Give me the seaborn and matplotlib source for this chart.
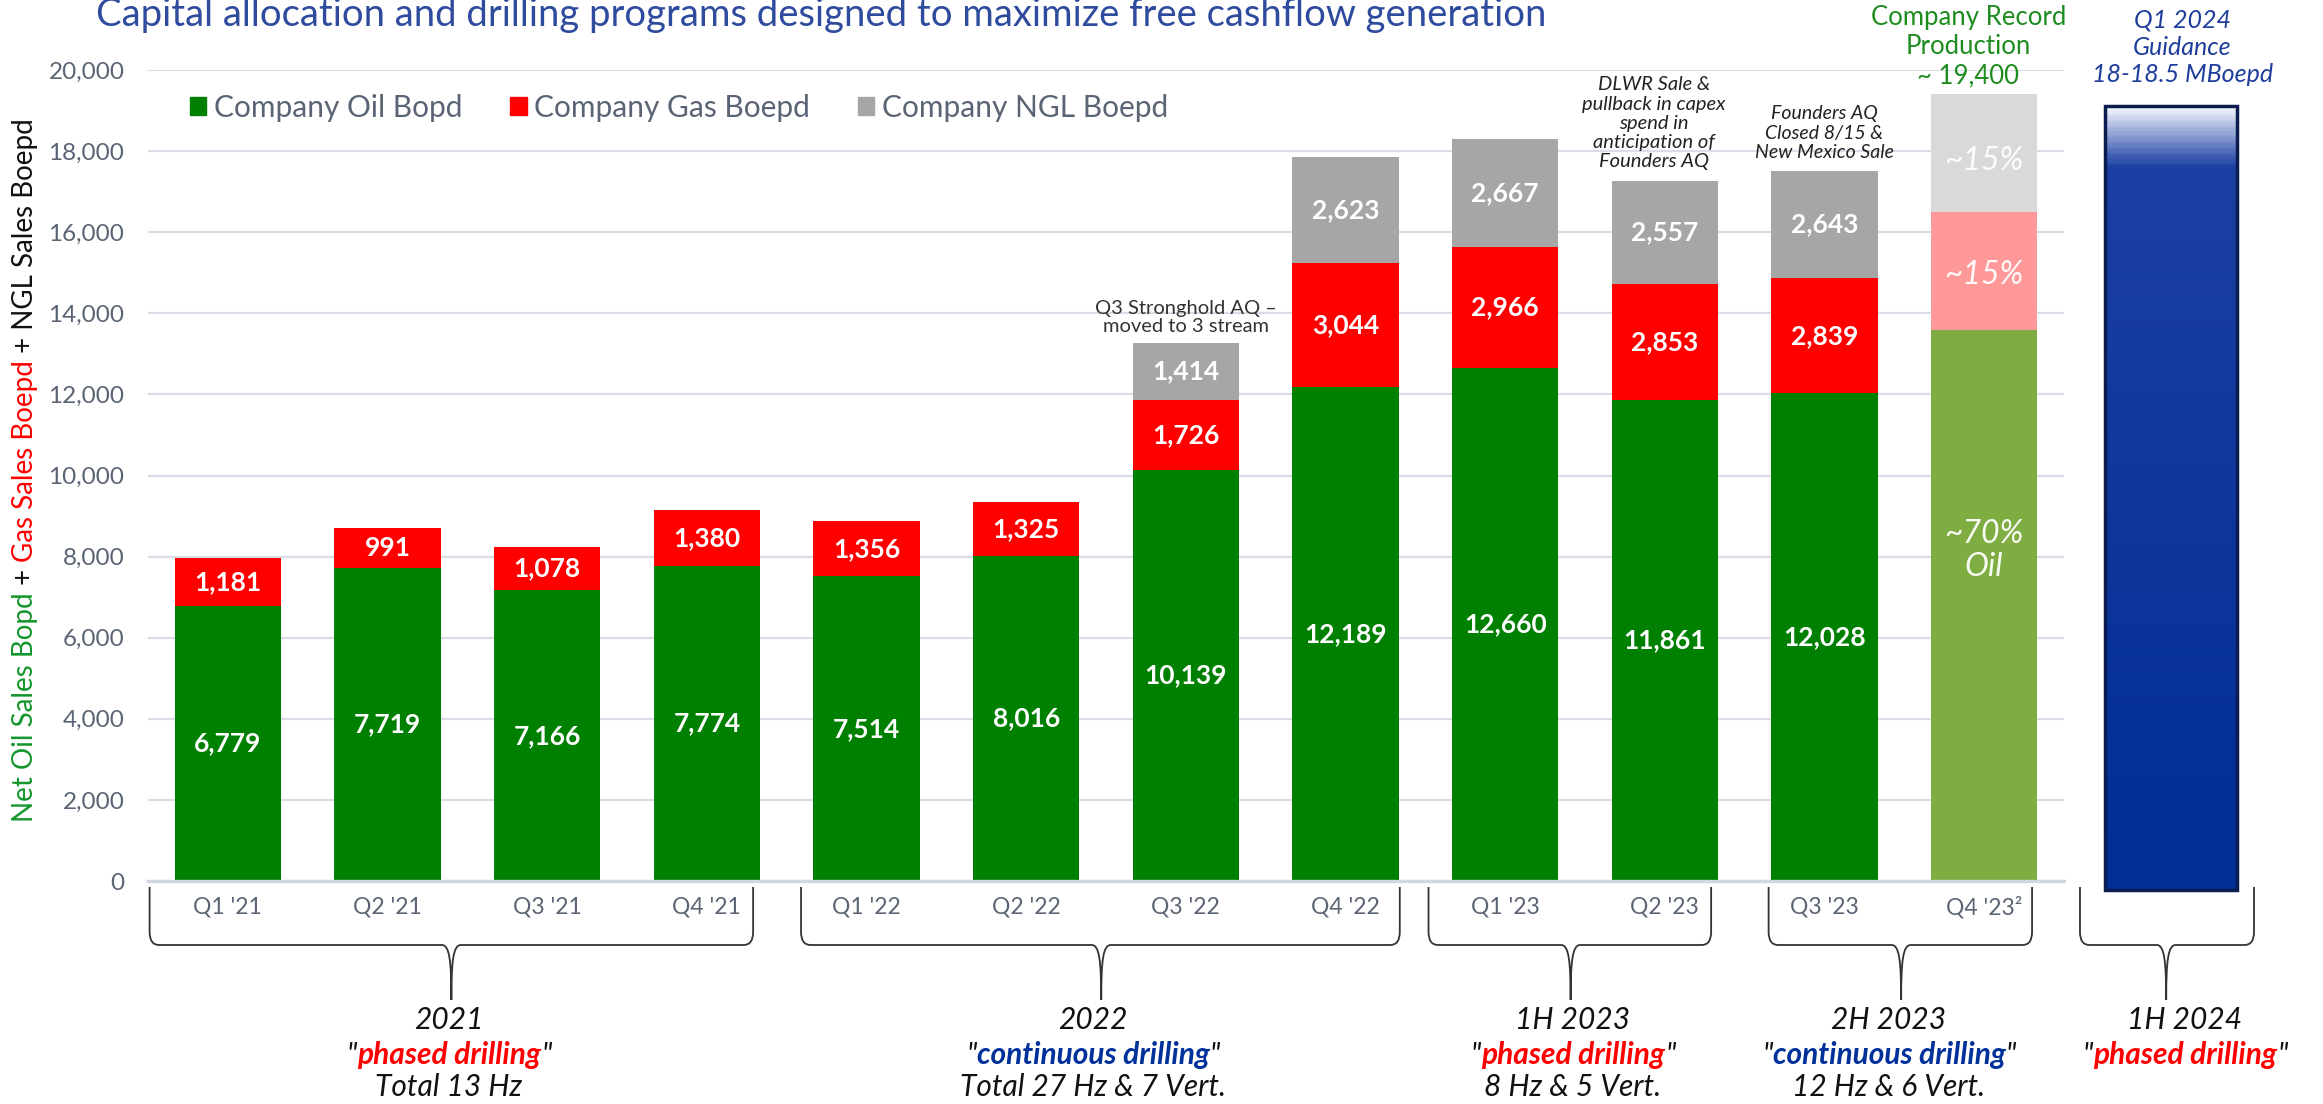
import matplotlib
matplotlib.use("Agg")
import matplotlib.pyplot as plt
import seaborn as sns
import numpy as np
import pandas as pd
import matplotlib.transforms as mtrans
from matplotlib.patches import Rectangle, PathPatch
from matplotlib.path import Path
from matplotlib.colors import LinearSegmentedColormap
from matplotlib.ticker import StrMethodFormatter

# Datos
quarters = ["Q1 '21", "Q2 '21", "Q3 '21", "Q4 '21", "Q1 '22", "Q2 '22",
            "Q3 '22", "Q4 '22", "Q1 '23", "Q2 '23", "Q3 '23", "Q4 '23²"]
oil = [6779, 7719, 7166, 7774, 7514, 8016, 10139, 12189, 12660, 11861, 12028, 13580]
gas = [1181, 991, 1078, 1380, 1356, 1325, 1726, 3044, 2966, 2853, 2839, 2910]
ngl = [0, 0, 0, 0, 0, 0, 1414, 2623, 2667, 2557, 2643, 2910]
q4_shares = ["~70%\nOil", "~15%", "~15%"]
guidance_top = 19100
series_names = ["Company Oil Bopd", "Company Gas Boepd", "Company NGL Boepd"]
groups = ["2021", "2022", "1H 2023", "2H 2023", "1H 2024"]
group_styles = ["phased drilling", "continuous drilling", "phased drilling",
                "continuous drilling", "phased drilling"]
group_wells = ["Total 13 Hz", "Total 27 Hz & 7 Vert.", "8 Hz & 5 Vert.",
               "12 Hz & 6 Vert.", ""]

sns.set_theme(style="white")
COND = ["Lato", "DejaVu Sans"]
plt.rcParams["font.family"] = ["Lato", "DejaVu Sans"]

W, H = 2323, 1104
GREEN, RED, GRAY = "#008000", "#FF0000", "#A6A6A6"
LGREEN, LRED, LGRAY = "#7FAD41", "#FF9999", "#D9D9D9"
NAVY = "#00309A"
TXT = "#5B6475"

fig = plt.figure(figsize=(W / 100, H / 100), dpi=100)
ax = fig.add_axes([148 / W, 1 - 881 / H, (2064 - 148) / W, (881 - 70) / H])


def px(x, y):
    return x / W, 1 - y / H


df = pd.DataFrame({"quarter": quarters, "oil": oil, "gas": gas, "ngl": ngl})
df["og"] = df["oil"] + df["gas"]
df["total"] = df["og"] + df["ngl"]
n = len(df)

# barras apiladas: se dibujan los acumulados de mayor a menor
for col, dark, light in [("total", GRAY, LGRAY), ("og", RED, LRED), ("oil", GREEN, LGREEN)]:
    pal = [dark] * (n - 1) + [light]
    sns.barplot(data=df, x="quarter", y=col, hue="quarter", palette=pal, legend=False,
                width=0.665, saturation=1, linewidth=0, ax=ax, zorder=2)

for i, r in df.iterrows():
    if i < n - 1:
        kw = dict(ha="center", va="center", color="white", fontsize=19, fontweight="bold", zorder=5)
        ax.text(i, r.oil / 2, f"{r.oil:,}", **kw)
        ax.text(i, r.oil + r.gas / 2, f"{r.gas:,}", **kw)
        if r.ngl > 0:
            ax.text(i, r.og + r.ngl / 2, f"{r.ngl:,}", **kw)
    else:
        kw = dict(ha="center", va="center", color="white", fontsize=23, style="italic",
                  zorder=5, linespacing=1.15, alpha=0.95)
        ax.text(i, r.oil * 0.6, q4_shares[0], **kw)
        ax.text(i, r.oil + r.gas / 2 - 100, q4_shares[1], **kw)
        ax.text(i, r.og + r.ngl / 2 - 200, q4_shares[2], **kw)

# barra de guidance con degradado
gx, gw, gbase = 12.17, 0.83, -220
cmap = LinearSegmentedColormap.from_list(
    "g", [(0, "#F2F4FB"), (0.035, "#8A9DD2"), (0.075, "#1B40A3"), (1, "#002D96")])
grad = np.linspace(0, 1, 400).reshape(-1, 1)
im = ax.imshow(grad, extent=[gx - gw / 2, gx + gw / 2, gbase, guidance_top], aspect="auto",
               cmap=cmap, origin="upper", zorder=3)
im.set_clip_on(False)
ax.add_patch(Rectangle((gx - gw / 2, gbase), gw, guidance_top - gbase, fill=False,
                       edgecolor="#0B1C4F", lw=2.5, clip_on=False, zorder=4))

ax.set_xlim(-0.5, 11.5)
ax.set_ylim(0, 20000)
ax.set_xlabel("")
ax.set_ylabel("")
ax.yaxis.set_major_locator(plt.MultipleLocator(2000))
ax.yaxis.set_major_formatter(StrMethodFormatter("{x:,.0f}"))
ax.yaxis.grid(True, color="#DADDE5", lw=1.6)
ax.set_axisbelow(True)
for s in ["top", "right", "left"]:
    ax.spines[s].set_visible(False)
ax.spines["bottom"].set_color("#D3D8E0")
ax.spines["bottom"].set_linewidth(2.4)
ax.tick_params(axis="y", length=0, pad=17, labelsize=17.5, labelcolor=TXT)
ax.tick_params(axis="x", length=0, pad=11, labelsize=16.5, labelcolor=TXT)

# leyenda
handles = [Rectangle((0, 0), 1, 1, color=c) for c in (GREEN, RED, GRAY)]
fig.legend(handles, series_names, loc="center left", bbox_to_anchor=px(190, 108), ncol=3,
           frameon=False, handlelength=0.55, handleheight=0.55,
           handletextpad=0.25, columnspacing=1.6, borderpad=0, borderaxespad=0,
           labelcolor=TXT, prop={"family": COND, "size": 21.5})

# titulo
fig.text(*px(96, 26), "Capital allocation and drilling programs designed to maximize free cashflow generation",
         color="#2E4B9E", fontsize=27.5, va="baseline", family=COND)

# anotaciones
ax.text(6, 13900, "Q3 Stronghold AQ –\nmoved to 3 stream", ha="center", va="center",
        fontsize=14.5, color="#333333", linespacing=1.1)
ax.text(8.93, 18690, "DLWR Sale &\npullback in capex\nspend in\nanticipation of\nFounders AQ",
        ha="center", va="center", fontsize=14.5, style="italic", color="#222222",
        linespacing=1.15, family=COND)
ax.text(10.0, 18445, "Founders AQ\nClosed 8/15 &\nNew Mexico Sale", ha="center", va="center",
        fontsize=14, style="italic", color="#222222", linespacing=1.2, family=COND)
ax.text(10.9, 20570, f"Company Record\nProduction\n~ {df['total'].iloc[-1]:,}", ha="center",
        va="center", fontsize=18.5, color="#1E8C1E", linespacing=1.2, family=COND)
ax.text(12.24, 20560, "Q1 2024\nGuidance\n18-18.5 MBoepd", ha="center", va="center",
        fontsize=18, style="italic", color="#1F3E9C", linespacing=1.2, family=COND)

fig.canvas.draw()
rend = fig.canvas.get_renderer()


def text_width(s, **kw):
    t = fig.text(0, 0, s, **kw)
    w = t.get_window_extent(rend).width
    t.remove()
    return w


# etiqueta del eje y en varios colores
ylab = [("Net Oil Sales Bopd", "#14962B"), (" + ", "#111111"), ("Gas Sales Boepd", RED),
        (" + NGL Sales Boepd", "#111111")]
yk = dict(fontsize=20, family=COND)
ystart = 822
for k, (s, c) in enumerate(ylab):
    prefix = "".join(p for p, _ in ylab[:k])
    off = text_width(prefix, **yk) if prefix else 0
    fig.text(*px(25, ystart - off), s, color=c, rotation=90, rotation_mode="anchor",
             ha="left", va="center", **yk)


def colored_line(pieces, xc, y, size):
    widths = [text_width(s, fontsize=size, family=COND, style="italic", fontweight=w)
              for s, c, w in pieces]
    x = xc - sum(widths) / 2
    for (s, c, w), wd in zip(pieces, widths):
        fig.text(*px(x, y), s, color=c, fontsize=size, family=COND, style="italic",
                 fontweight=w, ha="left", va="center")
        x += wd


# llaves y textos inferiores
blend = mtrans.blended_transform_factory(ax.transData, fig.transFigure)
brace_spans = [(-0.49, 1.40, 3.29), (3.59, 5.47, 7.34), (7.52, 8.41, 9.29),
               (9.65, 10.48, 11.30), (11.60, 12.14, 12.69)]
text_x = [449, 1093, 1573, 1889, 2185]
yt, yh, yb = 1 - 887 / H, 1 - 945 / H, 1 - 1000 / H
for (x0, xm, x1), g, st, wl, tx in zip(brace_spans, groups, group_styles, group_wells, text_x):
    r = 0.06
    verts = [(x0, yt), (x0, 1 - 932 / H), (x0, yh), (x0 + r, yh), (xm - r, yh),
             (xm - 0.012, yh), (xm, 1 - 960 / H), (xm, yb),
             (xm, 1 - 960 / H), (xm + 0.012, yh), (xm + r, yh),
             (x1 - r, yh), (x1, yh), (x1, 1 - 932 / H), (x1, yt)]
    codes = [Path.MOVETO, Path.LINETO, Path.CURVE3, Path.CURVE3, Path.LINETO,
             Path.CURVE4, Path.CURVE4, Path.CURVE4,
             Path.CURVE4, Path.CURVE4, Path.CURVE4,
             Path.LINETO, Path.CURVE3, Path.CURVE3, Path.LINETO]
    ax.add_patch(PathPatch(Path(verts, codes), fill=False, lw=1.3, edgecolor="#333333",
                           transform=blend, clip_on=False))
    colored_line([(g, "#111111", "normal")], tx, 1020, 21.5)
    scol = RED if st.startswith("phased") else NAVY
    colored_line([('"', "#111111", "normal"), (st, scol, "bold"), ('"', "#111111", "normal")],
                 tx, 1055, 21.5)
    if wl:
        colored_line([(wl, "#111111", "normal")], tx, 1087, 21.5)

fig.savefig("out.png", dpi=100)
